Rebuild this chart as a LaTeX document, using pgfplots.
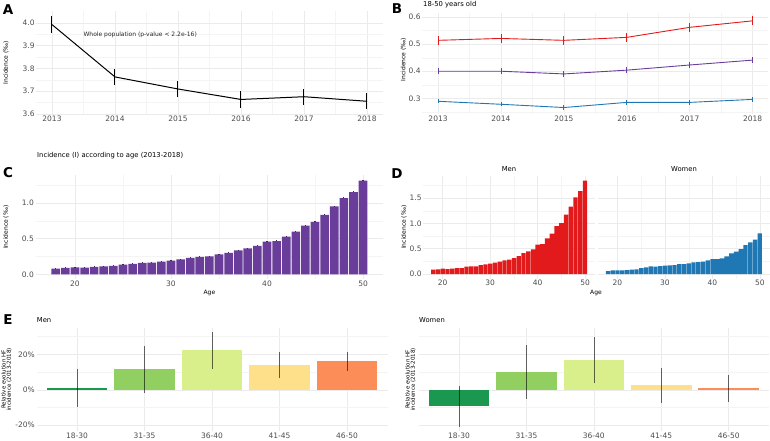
\documentclass[border=0pt]{standalone}
\usepackage{fontspec}
\setmainfont{DejaVu Sans}
\usepackage{pgfplots}
\usepackage{pgfplotstable}
\pgfplotsset{compat=1.18}

\definecolor{tickgrey}{HTML}{4D4D4D}
\definecolor{gridmaj}{HTML}{EBEBEB}
\definecolor{gridmin}{HTML}{F4F4F4}
\definecolor{cred}{HTML}{E31A1C}
\definecolor{cpurple}{HTML}{6A3D9A}
\definecolor{cblue}{HTML}{1F78B4}
\definecolor{g1}{HTML}{1A9850}
\definecolor{g2}{HTML}{91CF60}
\definecolor{g3}{HTML}{D9EF8B}
\definecolor{g4}{HTML}{FEE08B}
\definecolor{g5}{HTML}{FC8D59}

% incidence by age, all / men / women (per mille)
\pgfplotstableread{
age all men women
18 0.079 0.086 0.059
19 0.089 0.092 0.072
20 0.098 0.105 0.072
21 0.093 0.099 0.072
22 0.103 0.105 0.079
23 0.112 0.118 0.086
24 0.117 0.118 0.092
25 0.136 0.145 0.118
26 0.145 0.151 0.132
27 0.159 0.151 0.151
28 0.164 0.178 0.145
29 0.178 0.190 0.158
30 0.192 0.204 0.164
31 0.210 0.224 0.171
32 0.229 0.243 0.178
33 0.243 0.270 0.197
34 0.252 0.283 0.197
35 0.280 0.316 0.211
36 0.299 0.355 0.230
37 0.336 0.414 0.237
38 0.364 0.447 0.243
39 0.397 0.487 0.270
40 0.458 0.579 0.296
41 0.467 0.592 0.296
42 0.528 0.704 0.309
43 0.598 0.796 0.349
44 0.682 0.947 0.408
45 0.734 1.007 0.441
46 0.832 1.171 0.493
47 0.953 1.329 0.572
48 1.070 1.513 0.625
49 1.154 1.638 0.678
50 1.313 1.842 0.803
}\agetable

\pgfplotsset{
  gg/.style={
    scale only axis, anchor=south west, clip=false,
    axis line style={draw=none},
    major tick length=0pt, minor tick length=0pt,
    grid=both,
    major grid style={gridmaj, line width=0.55pt},
    minor grid style={gridmin, line width=0.3pt},
    tick label style={font=\fontsize{7.5}{8}\selectfont, text=tickgrey, inner sep=1.5pt},
    /pgf/number format/assume math mode=true,
    every axis y label/.style={at={(axis description cs:0,0.5)}, rotate=90,
      anchor=center, font=\fontsize{6}{7}\selectfont},
    every axis x label/.style={at={(axis description cs:0.5,0)}, anchor=center,
      font=\fontsize{6}{7}\selectfont},
  },
  onedec/.style={yticklabel style={/pgf/number format/.cd, fixed, fixed zerofill, precision=1}},
  years/.style={xtick={2013,2014,2015,2016,2017,2018},
    xticklabels={2013,2014,2015,2016,2017,2018},
    minor xtick={2013.5,2014.5,2015.5,2016.5,2017.5},
    xmin=2012.75, xmax=2018.25},
  errs/.style={error bars/.cd, y dir=both, y explicit, error mark=none,
    error bar style={line width=#1}},
  agebars/.style={ybar, bar width=0.9, bar shift=0pt, draw=none, fill=#1},
  catbar/.style={ybar, bar width=0.9, bar shift=0pt, draw=none, fill=#1},
  eerr/.style={draw=none, mark=none, forget plot,
    error bars/.cd, y dir=both, y explicit, error mark=none,
    error bar style={black, opacity=0.6, line width=0.7pt}},
}

\newcommand{\lab}{\fontsize{13.5}{14}\bfseries}
\newcommand{\ttl}{\fontsize{6.8}{8}\selectfont}

\begin{document}
\begin{tikzpicture}
\useasboundingbox (0,0) rectangle (770pt,440pt);

% ---------- A ----------
\begin{axis}[gg, onedec, years, at={(36.25pt,325.3pt)}, width=346.5pt, height=104pt,
  ymin=3.597, ymax=4.054, ytick={3.6,3.7,3.8,3.9,4.0},
  minor ytick={3.65,3.75,3.85,3.95},
  ylabel={Incidence (‰)}, ylabel style={yshift=30.25pt}]
\addplot[black, line width=1pt, mark=none, errs=1pt] coordinates {
  (2013,3.993) +- (0,0.038)
  (2014,3.763) +- (0,0.037)
  (2015,3.710) +- (0,0.035)
  (2016,3.664) +- (0,0.037)
  (2017,3.676) +- (0,0.035)
  (2018,3.656) +- (0,0.036)
};
\node[font=\fontsize{6}{7}\selectfont, text=black!85] at (axis cs:2014.4,3.95) {Whole population (p-value < 2.2e-16)};
\end{axis}

% ---------- B ----------
\begin{axis}[gg, onedec, years, at={(422.3pt,325.7pt)}, width=346.1pt, height=101.6pt,
  ymin=0.241, ymax=0.616, ytick={0.3,0.4,0.5,0.6},
  minor ytick={0.25,0.35,0.45,0.55},
  ylabel={Incidence (‰)}, ylabel style={yshift=18.8pt, xshift=4pt}]
\addplot[cred, line width=0.9pt, mark=none, errs=0.9pt] coordinates {
  (2013,0.514) +- (0,0.016) (2014,0.521) +- (0,0.016) (2015,0.514) +- (0,0.016)
  (2016,0.525) +- (0,0.016) (2017,0.562) +- (0,0.016) (2018,0.586) +- (0,0.016)
};
\addplot[cpurple, line width=0.9pt, mark=none, errs=0.9pt] coordinates {
  (2013,0.400) +- (0,0.012) (2014,0.400) +- (0,0.012) (2015,0.390) +- (0,0.012)
  (2016,0.404) +- (0,0.012) (2017,0.423) +- (0,0.012) (2018,0.441) +- (0,0.012)
};
\addplot[cblue, line width=0.9pt, mark=none, errs=0.9pt] coordinates {
  (2013,0.289) +- (0,0.008) (2014,0.278) +- (0,0.008) (2015,0.266) +- (0,0.008)
  (2016,0.285) +- (0,0.008) (2017,0.285) +- (0,0.008) (2018,0.296) +- (0,0.008)
};
\end{axis}

% ---------- C ----------
\begin{axis}[gg, onedec, at={(35.6pt,161pt)}, width=347.6pt, height=103.8pt,
  xmin=15.9, xmax=52.1, xtick={20,30,40,50}, minor xtick={25,35,45},
  ymin=-0.066, ymax=1.39, ytick={0,0.5,1.0}, minor ytick={0.25,0.75,1.25},
  xlabel={Age}, xlabel style={yshift=-14pt},
  ylabel={Incidence (‰)}, ylabel style={yshift=29.6pt}]
\addplot[agebars=cpurple, error bars/.cd, y dir=plus, y fixed=0.008,
  error mark=none, error bar style={cpurple!60!black, line width=1.2pt}]
  table[x=age, y=all] {\agetable};
\end{axis}

% ---------- D ----------
\begin{axis}[gg, onedec, at={(423.25pt,161.3pt)}, width=171.8pt, height=103.2pt,
  xmin=15.9, xmax=52.1, xtick={20,30,40,50}, minor xtick={25,35,45},
  ymin=-0.0925, ymax=1.945, ytick={0,0.5,1.0,1.5}, minor ytick={0.25,0.75,1.25,1.75},
  ylabel={Incidence (‰)}, ylabel style={yshift=19.25pt}]
\addplot[agebars=cred] table[x=age, y=men] {\agetable};
\end{axis}
\begin{axis}[gg, at={(598pt,161.3pt)}, width=171.8pt, height=103.2pt,
  xmin=15.9, xmax=52.1, xtick={20,30,40,50}, minor xtick={25,35,45},
  ymin=-0.0925, ymax=1.945, ytick={0,0.5,1.0,1.5}, yticklabels={},
  minor ytick={0.25,0.75,1.25,1.75}]
\addplot[agebars=cblue] table[x=age, y=women] {\agetable};
\end{axis}

% ---------- E ----------
\begin{axis}[gg, at={(36.5pt,8.8pt)}, width=351pt, height=103.4pt,
  xmin=0.4, xmax=5.6, xtick={1,2,3,4,5},
  xticklabels={18-30,31-35,36-40,41-45,46-50},
  ymin=-23.35, ymax=34.95, ytick={-20,0,20}, yticklabels={-20\%,0\%,20\%},
  minor ytick={-10,10,30},
  ylabel={Relative evolution HF\\incidence (2013-2018)},
  ylabel style={align=center, font=\fontsize{5.5}{5.4}\selectfont, yshift=30pt}]
\addplot[catbar=g1] coordinates {(1,1.1)};
\addplot[catbar=g2] coordinates {(2,11.5)};
\addplot[catbar=g3] coordinates {(3,22.2)};
\addplot[catbar=g4] coordinates {(4,14.1)};
\addplot[catbar=g5] coordinates {(5,16.0)};
\addplot[eerr] coordinates {
  (1,1.1) +- (0,10.9) (2,11.5) +- (0,13.4) (3,22.2) +- (0,10.2)
  (4,14.1) +- (0,7.4) (5,16.0) +- (0,5.3)
};
\end{axis}
\begin{axis}[gg, at={(418.6pt,8.8pt)}, width=350.5pt, height=103.4pt,
  xmin=0.4, xmax=5.6, xtick={1,2,3,4,5},
  xticklabels={18-30,31-35,36-40,41-45,46-50},
  ymin=-23.35, ymax=34.95, ytick={-20,0,20}, yticklabels={},
  minor ytick={-10,10,30},
  ylabel={Relative evolution HF\\incidence (2013-2018)},
  ylabel style={align=center, font=\fontsize{5.5}{5.4}\selectfont, yshift=8.1pt}]
\addplot[catbar=g1] coordinates {(1,-9.4)};
\addplot[catbar=g2] coordinates {(2,9.8)};
\addplot[catbar=g3] coordinates {(3,16.7)};
\addplot[catbar=g4] coordinates {(4,2.6)};
\addplot[catbar=g5] coordinates {(5,0.75)};
\addplot[eerr] coordinates {
  (1,-9.4) +- (0,11.3) (2,9.8) +- (0,15.2) (3,16.7) +- (0,13.1)
  (4,2.6) +- (0,9.9) (5,0.75) +- (0,7.5)
};
\end{axis}

% ---------- panel letters and titles ----------
\node[font=\lab] at (8pt,430.5pt) {A};
\node[font=\lab] at (397pt,431pt) {B};
\node[font=\lab] at (8pt,267pt) {C};
\node[font=\lab] at (397pt,266pt) {D};
\node[font=\lab] at (8pt,120pt) {E};
\node[font=\ttl, anchor=west, inner sep=0pt] at (423pt,435.5pt) {18-50 years old};
\node[font=\ttl, anchor=west, inner sep=0pt] at (37pt,284pt) {Incidence (I) according to age (2013-2018)};
\node[font=\ttl] at (509pt,271pt) {Men};
\node[font=\ttl] at (684pt,271pt) {Women};
\node[font=\fontsize{6}{7}\selectfont] at (596pt,147pt) {Age};
\node[font=\ttl, anchor=west, inner sep=0pt] at (36.7pt,120pt) {Men};
\node[font=\ttl, anchor=west, inner sep=0pt] at (419pt,120pt) {Women};
\end{tikzpicture}
\end{document}
